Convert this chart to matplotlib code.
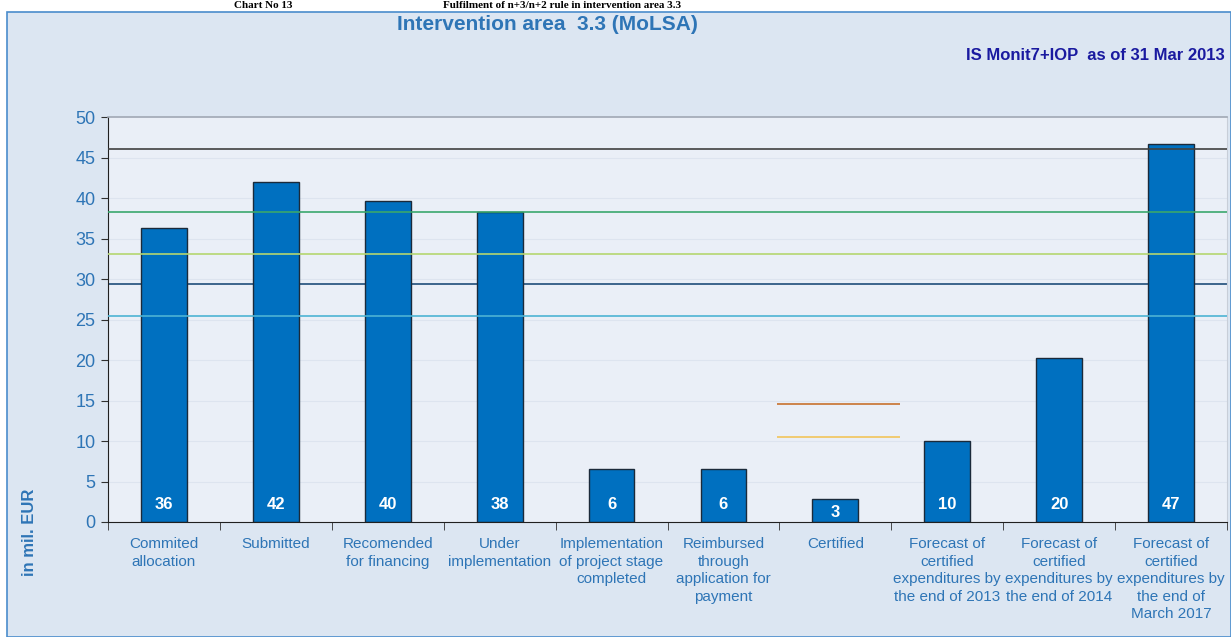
import numpy as np
import matplotlib
matplotlib.use("Agg")
import matplotlib.pyplot as plt
from matplotlib.patches import Rectangle

plt.rcParams['font.family'] = ['Liberation Sans', 'DejaVu Sans']

# data
categories = ["Commited\nallocation", "Submitted", "Recomended\nfor financing",
              "Under\nimplementation", "Implementation\nof project stage\ncompleted",
              "Reimbursed\nthrough\napplication for\npayment", "Certified",
              "Forecast of\ncertified\nexpenditures by\nthe end of 2013",
              "Forecast of\ncertified\nexpenditures by\nthe end of 2014",
              "Forecast of\ncertified\nexpenditures by\nthe end of\nMarch 2017"]
values = [36.3, 42.0, 39.6, 38.3, 6.5, 6.5, 2.8, 10.0, 20.2, 46.7]
value_labels = ["36", "42", "40", "38", "6", "6", "3", "10", "20", "47"]

# reference lines (full width): level, colour, drawn over bars?
full_lines = [46.0, 38.3, 33.1, 29.4, 25.4]
full_colors = ["#404040", "#3aa76d", "#b4d670", "#1f4e79", "#4db3d4"]
full_on_top = [True, True, True, False, True]
# short lines around "Certified"
short_lines = [14.6, 10.5]
short_colors = ["#c8722e", "#f2c45a"]

txt_blue = "#2e75b6"

fig = plt.figure(figsize=(12.31, 6.37), dpi=100)
fig.patch.set_facecolor("white")
fig.patches.append(Rectangle((7/1231, 0), 1 - 7/1231, 1 - 12/637, transform=fig.transFigure,
                             facecolor="#dce6f2", edgecolor="#4a8ccc", linewidth=1.2, zorder=-10))

# document caption above the chart
fig.text(0.19, 1 - 1/637, "Chart No 13", family=['Liberation Serif'], fontweight="bold",
         fontsize=8, va="top", ha="left")
fig.text(0.36, 1 - 1/637, "Fulfilment of n+3/n+2 rule in intervention area 3.3", family=['Liberation Serif'],
         fontweight="bold", fontsize=8, va="top", ha="left")

ax = fig.add_axes([108/1231, 1 - 522/637, (1227 - 108)/1231, (522 - 117)/637])
ax.set_facecolor("#eaeff7")

x = np.arange(len(categories))
ax.set_xlim(-0.5, len(categories) - 0.5)
ax.set_ylim(0, 50)

for yv in range(5, 50, 5):
    ax.axhline(yv, color="#dde4ef", lw=0.8, zorder=0.5)

for lv, c, top in zip(full_lines, full_colors, full_on_top):
    ax.axhline(lv, color=c, lw=1.2, zorder=3 if top else 1)

ax.bar(x, values, width=0.41, color="#0070c0", edgecolor="#1b2a3a", linewidth=1.0, zorder=2)

for lv, c in zip(short_lines, short_colors):
    ax.hlines(lv, 6 - 0.52, 6 + 0.58, color=c, lw=1.2, zorder=3)

for xi, v, lab in zip(x, values, value_labels):
    ax.text(xi, min(2.1, v * 0.4), lab, color="white", fontweight="bold", fontsize=12,
            ha="center", va="center", zorder=4)

ax.set_xticks(x)
ax.set_xticklabels(categories, color=txt_blue, fontsize=11, linespacing=1.32)
ax.tick_params(axis="x", length=0, pad=11)
ax.set_xticks(np.arange(-0.5, len(categories)), minor=True)
ax.tick_params(axis="x", which="minor", length=6, direction="out", color="#303030")

ax.set_yticks(range(0, 51, 5))
ax.tick_params(axis="y", length=5, color="#303030", labelcolor=txt_blue, labelsize=13, pad=4)

for s in ["left", "bottom"]:
    ax.spines[s].set_color("#202020")
ax.spines["top"].set_color("#a0a8b4")
ax.spines["top"].set_linewidth(1.2)
ax.spines["right"].set_color("#c8ced8")

fig.text(0.445, 1 - 25/637, "Intervention area  3.3 (MoLSA)", color=txt_blue, fontweight="bold",
         fontsize=15, ha="center", va="center")
fig.text(0.995, 1 - 55/637, "IS Monit7+IOP  as of 31 Mar 2013", color="#1a1aa0", fontweight="bold",
         fontsize=12, ha="right", va="center")
fig.text(30/1231, 1 - 532/637, "in mil. EUR", color=txt_blue, fontweight="bold", fontsize=12,
         rotation=90, ha="center", va="center")

fig.savefig("out.png", dpi=100)
